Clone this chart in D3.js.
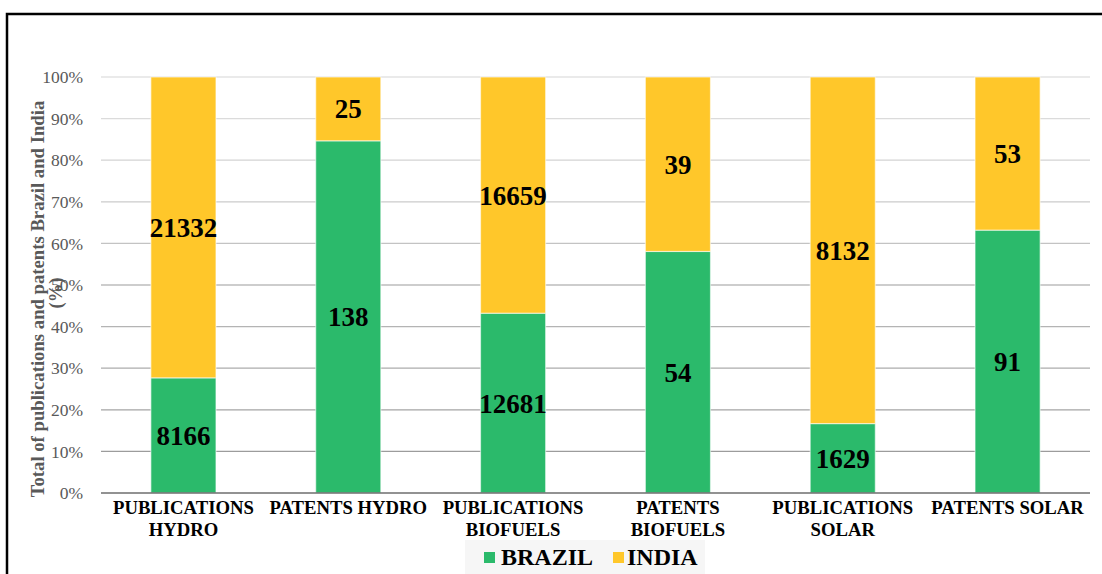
<!DOCTYPE html>
<html><head><meta charset="utf-8">
<script src="https://cdn.jsdelivr.net/npm/d3@7"></script>
<style>body{margin:0;background:#fff;}svg{display:block;}</style>
</head><body>
<svg id="chart" width="1102" height="574"></svg>
<script>
const categories = ["PUBLICATIONS HYDRO","PATENTS HYDRO","PUBLICATIONS BIOFUELS","PATENTS BIOFUELS","PUBLICATIONS SOLAR","PATENTS SOLAR"];
const categoryLines = [["PUBLICATIONS","HYDRO"],["PATENTS HYDRO"],["PUBLICATIONS","BIOFUELS"],["PATENTS","BIOFUELS"],["PUBLICATIONS","SOLAR"],["PATENTS SOLAR"]];
const brazil = [8166,138,12681,54,1629,91];
const india = [21332,25,16659,39,8132,53];
const seriesNames = ["BRAZIL","INDIA"];
const seriesColors = ["#2BBA6B","#FFC72A"];
const yTicks = [0,0.1,0.2,0.3,0.4,0.5,0.6,0.7,0.8,0.9,1];

const svg = d3.select("#chart");
const serif = "'Liberation Serif','Times New Roman',serif";

// frame
svg.append("rect").attr("x",7).attr("y",14).attr("width",1200).attr("height",700)
  .attr("fill","none").attr("stroke","#000").attr("stroke-width",2.5);

const x = d3.scaleBand().domain(categories).range([101,1090]).paddingInner(0.605).paddingOuter(0.3025);
const y = d3.scaleLinear().domain([0,1]).range([493,77]);

const table = categories.map((c,i)=>({cat:c, BRAZIL:brazil[i], INDIA:india[i]}));
const stack = d3.stack().keys(seriesNames).offset(d3.stackOffsetExpand);
const layers = stack(table);

// gridlines
const gridColor = d3.scaleLinear().domain([0.1,1]).range(["#9c9c9c","#e3e3e3"]);
svg.append("g").selectAll("line").data(yTicks.filter(t=>t>0)).join("line")
  .attr("x1",101).attr("x2",1090).attr("y1",d=>y(d)).attr("y2",d=>y(d))
  .attr("stroke",d=>gridColor(d)).attr("stroke-width",1.3);

// y axis labels
const yAxis = d3.axisLeft(y).tickValues(yTicks).tickFormat(d3.format(".0%")).tickSize(0).tickPadding(18);
const ya = svg.append("g").attr("transform","translate(101,0)").call(yAxis);
ya.select(".domain").remove();
ya.selectAll("text").attr("font-family",serif).attr("font-size",17.5).attr("fill","#595959");

// bars
const g = svg.append("g");
layers.forEach((layer,si)=>{
  g.append("g").selectAll("rect").data(layer).join("rect")
    .attr("x",d=>x(d.data.cat)).attr("width",x.bandwidth())
    .attr("y",d=>y(d[1])).attr("height",d=>y(d[0])-y(d[1]))
    .attr("fill",seriesColors[si]).attr("stroke","#fff").attr("stroke-opacity",0.55).attr("stroke-width",1.2);
});
layers.forEach((layer,si)=>{
  g.append("g").selectAll("text").data(layer).join("text")
    .attr("x",d=>x(d.data.cat)+x.bandwidth()/2)
    .attr("y",d=>(y(d[0])+y(d[1]))/2)
    .attr("dy","0.35em").attr("text-anchor","middle")
    .attr("font-family",serif).attr("font-weight","bold").attr("font-size",27).attr("fill","#000")
    .text(d=>d.data[layer.key]);
});

// x axis baseline
svg.append("line").attr("x1",101).attr("x2",1090).attr("y1",y(0)).attr("y2",y(0))
  .attr("stroke","#6e6e6e").attr("stroke-width",1.6);

// category labels
const xl = svg.append("g").selectAll("text").data(categories).join("text")
  .attr("x",d=>x(d)+x.bandwidth()/2).attr("y",514)
  .attr("text-anchor","middle").attr("font-family",serif).attr("font-weight","bold")
  .attr("font-size",18.7).attr("fill","#000");
xl.each(function(d,i){
  d3.select(this).selectAll("tspan").data(categoryLines[i]).join("tspan")
    .attr("x",x(d)+x.bandwidth()/2).attr("dy",(t,j)=>j===0?0:22).text(t=>t);
});

// y axis title
const yt = svg.append("text").attr("transform","translate(37,299) rotate(-90)")
  .attr("text-anchor","middle").attr("font-family",serif).attr("font-weight","bold")
  .attr("font-size",18.7).attr("fill","#595959");
yt.append("tspan").attr("x",0).attr("dy","0.35em").text("Total of publications and patents Brazil and India");
yt.append("tspan").attr("x",6).attr("dy",18).text("(%)");

// legend
svg.append("rect").attr("x",465).attr("y",540).attr("width",240).attr("height",40).attr("fill","#f6f6f6");
const legendX = [484,613];
const legendTextX = [501,627];
seriesNames.forEach((s,i)=>{
  svg.append("rect").attr("x",legendX[i]).attr("y",552).attr("width",11).attr("height",11).attr("fill",seriesColors[i]);
  svg.append("text").attr("x",legendTextX[i]).attr("y",564.5).attr("font-family",serif)
    .attr("font-weight","bold").attr("font-size",24).attr("fill","#000").text(s);
});
</script>
</body></html>
